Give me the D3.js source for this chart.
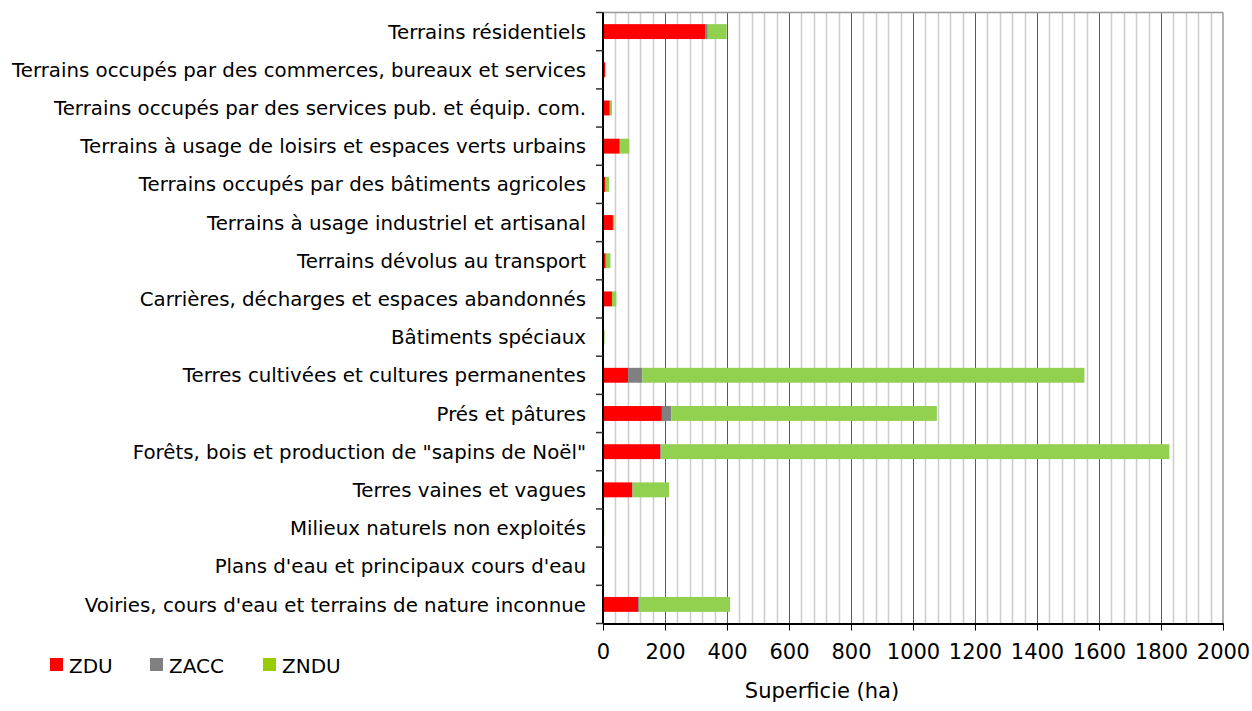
<!DOCTYPE html>
<html>
<head>
<meta charset="utf-8">
<script src="https://cdn.jsdelivr.net/npm/d3@7"></script>
<style>
  body { margin: 0; background: #fff; }
  text { font-family: "DejaVu Sans", Verdana, sans-serif; fill: #000; }
</style>
</head>
<body>
<svg id="chart" width="1252" height="711"></svg>
<script>
// categories, top to bottom
const categories = [
  "Terrains résidentiels",
  "Terrains occupés par des commerces, bureaux et services",
  "Terrains occupés par des services pub. et équip. com.",
  "Terrains à usage de loisirs et espaces verts urbains",
  "Terrains occupés par des bâtiments agricoles",
  "Terrains à usage industriel et artisanal",
  "Terrains dévolus au transport",
  "Carrières, décharges et espaces abandonnés",
  "Bâtiments spéciaux",
  "Terres cultivées et cultures permanentes",
  "Prés et pâtures",
  "Forêts, bois et production de \"sapins de Noël\"",
  "Terres vaines et vagues",
  "Milieux naturels non exploités",
  "Plans d'eau et principaux cours d'eau",
  "Voiries, cours d'eau et terrains de nature inconnue"
];

const zdu  = [330, 7, 22, 54, 8, 32, 9, 29, 1, 81, 190, 185, 94, 0, 0, 113];
const zacc = [8, 0, 0, 1, 0, 0, 0, 0, 0, 46, 30, 4, 2, 0, 0, 3];
const zndu = [61, 0, 7, 30, 12, 5, 15, 14, 4, 1426, 857, 1638, 117, 4, 3, 294];

const seriesNames = ["ZDU", "ZACC", "ZNDU"];
const barColors = ["#ff0000", "#808080", "#92d050"];
const legendColors = ["#ff0000", "#808080", "#99cc00"];
const xTicks = [0, 200, 400, 600, 800, 1000, 1200, 1400, 1600, 1800, 2000];

const svg = d3.select("#chart");
const plotL = 603, plotR = 1223, plotT = 12.5, plotB = 623.5;

const x = d3.scaleLinear().domain([0, 2000]).range([plotL, plotR]);
const y = d3.scaleBand().domain(categories).range([plotT, plotB])
  .paddingInner(0.61).paddingOuter(0.305);

// gridlines: minor every 40, major every 200
svg.append("g")
  .selectAll("line")
  .data(d3.range(40, 2000, 40).filter(v => v % 200 !== 0))
  .join("line")
  .attr("x1", d => Math.round(x(d)) + 0.5).attr("x2", d => Math.round(x(d)) + 0.5)
  .attr("y1", plotT).attr("y2", plotB)
  .attr("stroke", "#cccccc").attr("stroke-width", 1.5);

svg.append("g")
  .selectAll("line")
  .data(xTicks.slice(1, -1))
  .join("line")
  .attr("x1", d => Math.round(x(d)) + 0.5).attr("x2", d => Math.round(x(d)) + 0.5)
  .attr("y1", plotT).attr("y2", plotB)
  .attr("stroke", "#5a5a5a").attr("stroke-width", 1);

// plot border top / right
svg.append("line").attr("x1", plotL).attr("x2", plotR).attr("y1", plotT).attr("y2", plotT)
  .attr("stroke", "#999").attr("stroke-width", 1.5);
svg.append("line").attr("x1", plotR).attr("x2", plotR).attr("y1", plotT).attr("y2", plotB)
  .attr("stroke", "#999").attr("stroke-width", 1.5);

// stacked bars
const rows = categories.map((c, i) => ({ cat: c, ZDU: zdu[i], ZACC: zacc[i], ZNDU: zndu[i] }));
const stacked = d3.stack().keys(seriesNames)(rows);

svg.append("g")
  .selectAll("g")
  .data(stacked)
  .join("g")
  .attr("fill", (d, i) => barColors[i])
  .selectAll("rect")
  .data(d => d)
  .join("rect")
  .attr("x", d => x(d[0]))
  .attr("y", d => y(d.data.cat))
  .attr("width", d => Math.max(0, x(d[1]) - x(d[0])))
  .attr("height", y.bandwidth());

// y axis
const yAxis = svg.append("g");
yAxis.append("line").attr("x1", plotL).attr("x2", plotL).attr("y1", plotT).attr("y2", plotB)
  .attr("stroke", "#000").attr("stroke-width", 2);
yAxis.selectAll("line.tick")
  .data(d3.range(categories.length + 1))
  .join("line")
  .attr("class", "tick")
  .attr("x1", plotL - 7).attr("x2", plotL)
  .attr("y1", i => plotT + i * y.step()).attr("y2", i => plotT + i * y.step())
  .attr("stroke", "#333").attr("stroke-width", 1.5);
yAxis.selectAll("text")
  .data(categories)
  .join("text")
  .attr("x", 586)
  .attr("y", d => y(d) + y.bandwidth() / 2)
  .attr("dy", "0.36em")
  .attr("text-anchor", "end")
  .style("font-size", "19.8px")
  .text(d => d);

// x axis
const xAxis = svg.append("g").attr("transform", `translate(0,${plotB})`)
  .call(d3.axisBottom(x).tickValues(xTicks).tickFormat(d3.format("d"))
    .tickSize(7).tickPadding(14).tickSizeOuter(0));
xAxis.select(".domain").attr("stroke", "#000").attr("stroke-width", 2);
xAxis.selectAll(".tick line").attr("stroke", "#000").attr("stroke-width", 1);
xAxis.selectAll(".tick text").style("font-size", "21px")
  .style("font-family", "'DejaVu Sans', Verdana, sans-serif");

svg.append("text")
  .attr("x", 822).attr("y", 698)
  .attr("text-anchor", "middle")
  .style("font-size", "21px")
  .text("Superficie (ha)");

// legend
const legendX = [50, 150, 263];
const legend = svg.append("g").selectAll("g")
  .data(seriesNames)
  .join("g")
  .attr("transform", (d, i) => `translate(${legendX[i]},658)`);
legend.append("rect").attr("width", 13).attr("height", 13)
  .attr("fill", (d, i) => legendColors[i]);
legend.append("text").attr("x", 19).attr("y", 14.5)
  .style("font-size", "20px").text(d => d);
</script>
</body>
</html>
